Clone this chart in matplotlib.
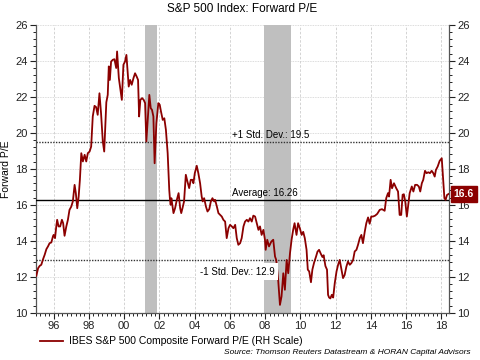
import matplotlib
matplotlib.use("Agg")
from matplotlib import pyplot as plt
from matplotlib.ticker import MultipleLocator, FixedLocator

plt.rcParams["font.family"] = ["Liberation Sans", "DejaVu Sans"]

# decimal year, forward P/E
years = [
    1995.02, 1995.12, 1995.21, 1995.30, 1995.40, 1995.49, 1995.59, 1995.68, 1995.77, 1995.87,
    1995.96, 1996.00, 1996.08, 1996.15, 1996.20, 1996.28, 1996.37, 1996.47, 1996.54, 1996.62,
    1996.72, 1996.81, 1996.90, 1997.00, 1997.09, 1997.19, 1997.26, 1997.34, 1997.42, 1997.49,
    1997.57, 1997.66, 1997.76, 1997.85, 1997.94, 1998.04, 1998.13, 1998.22, 1998.32, 1998.41,
    1998.50, 1998.60, 1998.69, 1998.79, 1998.87, 1998.94, 1998.99, 1999.07, 1999.13, 1999.19,
    1999.26, 1999.36, 1999.45, 1999.55, 1999.60, 1999.70, 1999.79, 1999.87, 1999.96, 2000.05,
    2000.13, 2000.21, 2000.26, 2000.34, 2000.43, 2000.53, 2000.62, 2000.71, 2000.79, 2000.85,
    2000.92, 2001.02, 2001.11, 2001.19, 2001.26, 2001.36, 2001.43, 2001.51, 2001.58, 2001.66,
    2001.73, 2001.83, 2001.94, 2002.02, 2002.09, 2002.19, 2002.28, 2002.37, 2002.47, 2002.56,
    2002.60, 2002.64, 2002.68, 2002.80, 2002.89, 2002.99, 2003.09, 2003.18, 2003.24, 2003.31,
    2003.40, 2003.50, 2003.59, 2003.69, 2003.78, 2003.87, 2003.93, 2004.01, 2004.12, 2004.21,
    2004.31, 2004.40, 2004.46, 2004.54, 2004.64, 2004.73, 2004.83, 2004.92, 2005.01, 2005.11,
    2005.16, 2005.26, 2005.35, 2005.45, 2005.54, 2005.63, 2005.73, 2005.82, 2005.92, 2006.01,
    2006.11, 2006.20, 2006.30, 2006.39, 2006.48, 2006.58, 2006.67, 2006.77, 2006.86, 2006.96,
    2007.05, 2007.14, 2007.24, 2007.33, 2007.43, 2007.52, 2007.62, 2007.71, 2007.80, 2007.90,
    2007.99, 2008.03, 2008.12, 2008.22, 2008.35, 2008.46, 2008.56, 2008.63, 2008.74, 2008.84,
    2008.93, 2009.03, 2009.12, 2009.22, 2009.31, 2009.41, 2009.50, 2009.59, 2009.67, 2009.78,
    2009.87, 2009.97, 2010.07, 2010.16, 2010.25, 2010.35, 2010.42, 2010.50, 2010.60, 2010.68,
    2010.78, 2010.88, 2010.97, 2011.06, 2011.15, 2011.25, 2011.32, 2011.42, 2011.51, 2011.57,
    2011.63, 2011.70, 2011.78, 2011.86, 2011.95, 2012.05, 2012.14, 2012.23, 2012.33, 2012.42,
    2012.51, 2012.61, 2012.70, 2012.80, 2012.89, 2012.99, 2013.08, 2013.18, 2013.27, 2013.37,
    2013.46, 2013.55, 2013.65, 2013.74, 2013.84, 2013.93, 2014.02, 2014.12, 2014.24, 2014.36,
    2014.50, 2014.63, 2014.78, 2014.87, 2014.97, 2015.03, 2015.12, 2015.20, 2015.31, 2015.44,
    2015.54, 2015.63, 2015.72, 2015.80, 2015.87, 2015.95, 2016.04, 2016.13, 2016.20, 2016.32,
    2016.41, 2016.51, 2016.62, 2016.72, 2016.80, 2016.89, 2016.97, 2017.07, 2017.16, 2017.26,
    2017.35, 2017.45, 2017.54, 2017.62, 2017.69, 2017.79, 2017.90, 2018.02, 2018.11, 2018.17,
    2018.24, 2018.32, 2018.40,
]
pe = [
    12.06, 12.48, 12.61, 12.67, 12.98, 13.22, 13.54, 13.69, 13.87, 13.91,
    14.24, 14.33, 14.15, 14.80, 15.17, 14.80, 14.80, 15.17, 14.98, 14.28,
    14.80, 15.17, 15.72, 15.90, 16.19, 17.11, 16.65, 15.81, 16.46, 17.39,
    18.87, 18.41, 18.78, 18.41, 18.87, 18.96, 19.24, 20.91, 21.50, 21.43,
    21.00, 22.20, 21.09, 19.52, 18.96, 20.50, 21.70, 22.11, 23.69, 22.94,
    23.96, 24.06, 24.09, 23.60, 24.52, 23.04, 22.39, 21.83, 23.78, 23.96,
    24.33, 23.22, 22.57, 22.94, 22.67, 23.04, 23.31, 23.13, 22.94, 20.91,
    21.83, 21.93, 21.83, 21.65, 19.52, 21.09, 22.11, 21.37, 21.28, 20.91,
    18.31, 20.54, 21.65, 21.56, 21.19, 20.72, 20.81, 20.17, 18.87, 16.83,
    16.31, 16.00, 16.37, 15.54, 15.81, 16.28, 16.65, 15.81, 15.54, 15.81,
    16.19, 17.67, 17.30, 16.93, 17.39, 17.39, 17.20, 17.76, 18.17, 17.76,
    17.20, 16.46, 16.19, 16.37, 15.91, 15.63, 15.76, 16.19, 16.37, 16.19,
    16.28, 15.91, 15.54, 15.44, 15.35, 15.17, 15.07, 14.15, 14.70, 14.89,
    14.80, 14.70, 14.89, 14.15, 13.78, 13.87, 14.15, 14.80, 15.07, 15.17,
    15.07, 15.26, 15.07, 15.40, 15.35, 15.00, 14.61, 14.80, 14.33, 14.61,
    14.06, 13.50, 14.06, 13.69, 13.96, 14.06, 13.13, 12.94, 11.83, 10.44,
    10.91, 12.20, 11.28, 12.94, 12.20, 13.31, 14.06, 14.61, 14.98, 14.33,
    14.98, 14.70, 14.33, 14.50, 14.15, 13.50, 12.40, 12.30, 11.70, 12.40,
    12.80, 13.10, 13.40, 13.50, 13.30, 13.10, 13.20, 12.60, 12.40, 11.00,
    10.85, 10.80, 11.00, 10.85, 11.65, 12.30, 12.67, 12.94, 12.40, 11.93,
    12.10, 12.57, 12.85, 12.67, 12.76, 12.94, 13.41, 13.50, 13.78, 14.15,
    14.33, 13.87, 14.50, 14.98, 15.30, 14.95, 15.35, 15.35, 15.40, 15.50,
    15.72, 15.76, 15.67, 16.37, 16.65, 16.46, 17.39, 16.92, 17.20, 16.92,
    16.74, 15.44, 15.44, 16.56, 16.59, 16.18, 15.35, 16.09, 16.65, 17.02,
    16.74, 17.11, 17.11, 17.02, 16.74, 17.20, 17.39, 17.89, 17.76, 17.81,
    17.76, 17.89, 17.76, 17.57, 17.94, 18.13, 18.44, 18.59, 17.30, 16.37,
    16.28, 16.55, 16.60,
]
recessions = [(2001.17, 2001.88), (2007.92, 2009.47)]
avg = 16.26
std_hi = 19.5
std_lo = 12.95
last_label = "16.6"
xtick_years = [1996, 1998, 2000, 2002, 2004, 2006, 2008, 2010, 2012, 2014, 2016, 2018]
xtick_labels = ["96", "98", "00", "02", "04", "06", "08", "10", "12", "14", "16", "18"]

red = "#8b0000"
fig = plt.figure(figsize=(4.8, 3.6), dpi=100)
ax = fig.add_axes([0.075, 0.131, 0.86, 0.80])

for a, b in recessions:
    ax.axvspan(a, b, color="#bfbfbf", lw=0, zorder=1)

ax.plot(years, pe, color=red, lw=1.3, zorder=4,
        label="IBES S&P 500 Composite Forward P/E (RH Scale)")
ax.axhline(avg, color="black", lw=1.0, zorder=3)
ax.axhline(std_hi, color="#333333", lw=1.0, ls=(0, (1, 1)), zorder=3)
ax.axhline(std_lo, color="#333333", lw=1.0, ls=(0, (1, 1)), zorder=3)

ax.text(2006.1, std_hi + 0.1, "+1 Std. Dev.: " + str(std_hi), fontsize=7, va="bottom", zorder=5)
ax.text(2006.1, avg + 0.1, "Average: " + str(avg), fontsize=7, va="bottom", zorder=5)
ax.text(2004.3, 12.28, "-1 Std. Dev.: 12.9", fontsize=7, va="center", zorder=5,
        bbox=dict(facecolor="white", edgecolor="none", pad=2.5))

ax.set_xlim(1995.0, 2018.42)
ax.set_ylim(10, 26)
ax.xaxis.set_major_locator(FixedLocator(xtick_years))
ax.set_xticklabels(xtick_labels)
ax.xaxis.set_minor_locator(MultipleLocator(0.25))
ax.yaxis.set_major_locator(MultipleLocator(2))
ax.yaxis.set_minor_locator(MultipleLocator(0.4))
ax.tick_params(axis="both", labelsize=8, colors="#222222", length=4, width=0.8, pad=2)
ax.tick_params(axis="y", which="both", left=True, right=True, labelright=True)
ax.tick_params(axis="x", which="minor", length=2.5, width=0.6)
ax.tick_params(axis="y", which="minor", length=2.5, width=0.6)
ax.grid(axis="x", color="#cccccc", ls=(0, (3, 2)), lw=0.6)
ax.grid(axis="y", color="#d0d0d0", ls=(0, (1, 1)), lw=0.6)
ax.set_axisbelow(True)
ax.spines["top"].set_visible(False)
for s in ["left", "right", "bottom"]:
    ax.spines[s].set_color("#555555")
    ax.spines[s].set_linewidth(0.9)

ax.set_ylabel("Forward P/E", fontsize=7.5, labelpad=3)
ax.set_title("S&P 500 Index: Forward P/E", fontsize=8.5, pad=9)

# last value box at the right edge
ax.annotate(last_label, xy=(1.0, pe[-1]), xycoords=("axes fraction", "data"),
            xytext=(3.5, 0), textcoords="offset points", ha="left", va="center",
            fontsize=7.5, fontweight="bold", color="white", annotation_clip=False,
            bbox=dict(boxstyle="square,pad=0.3", facecolor=red, edgecolor=red), zorder=6)

fig.legend(loc="center left", bbox_to_anchor=(0.083, 0.052), frameon=False, fontsize=7.5,
           handlelength=2.2, handletextpad=0.6, borderpad=0, borderaxespad=0)
fig.text(0.98, 0.012, "Source: Thomson Reuters Datastream & HORAN Capital Advisors",
         ha="right", va="bottom", fontsize=6, style="italic")

fig.savefig("out.png", dpi=100)
